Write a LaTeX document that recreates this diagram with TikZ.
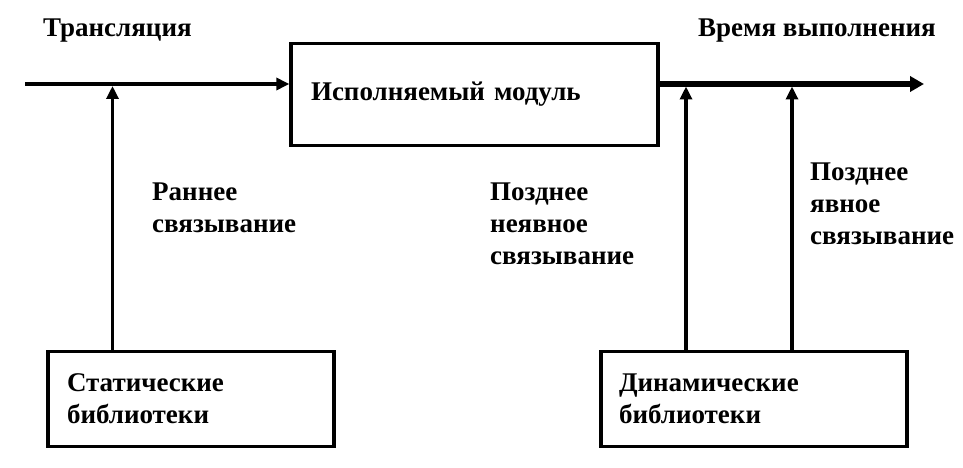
\documentclass[tikz,border=0pt]{standalone}
\usepackage{fontspec}
\setmainfont{Liberation Serif}
\usetikzlibrary{arrows.meta,calc}
\begin{document}
\begin{tikzpicture}[x=1pt,y=-1pt,
  txt/.style={font=\fontsize{27}{32}\selectfont\bfseries},
  lbl/.style={txt, anchor=north west, inner sep=0pt, align=left},
  box/.style={txt, draw, line width=3.3pt, inner xsep=0pt, inner ysep=0pt, align=left},
  arr/.style={line width=3.2pt, -{Triangle[length=13pt,width=12pt]}},
  bigarr/.style={line width=5.5pt, -{Triangle[length=14pt,width=15pt]}}]
\useasboundingbox (0,0) rectangle (963,468);
% boxes
\node[box, minimum width=367pt, minimum height=102pt, text width=327pt] (mod) at (474.5,94.5) {Исполняемый модуль};
\node[box, minimum width=286pt, minimum height=95pt, text width=248pt] (stat) at (191,399) {Статические\\библиотеки};
\node[box, minimum width=306pt, minimum height=95pt, text width=270pt] (dyn) at (754,399) {Динамические\\библиотеки};
% main line
\coordinate (start) at (25,84);
\coordinate (end) at (924,84);
\draw[arr] (start) -- (mod.west |- start);
\draw[bigarr] (mod.east |- end) -- (end);
% vertical arrows
\coordinate (l1) at (112.5,86);
\coordinate (r1) at (686,86.5);
\coordinate (r2) at (792,86.5);
\draw[arr] (stat.north -| l1) -- (l1);
\draw[arr] (dyn.north -| r1) -- (r1);
\draw[arr] (dyn.north -| r2) -- (r2);
% labels
\node[lbl] (t1) at (43,19) {Трансляция};
\node[lbl] (t2) at (698,19) {Время выполнения};
\node[lbl] (t3) at (152,183) {Раннее\\связывание};
\node[lbl] (t4) at (490,183) {Позднее\\неявное\\связывание};
\node[lbl] (t5) at (810,163) {Позднее\\явное\\связывание};
\end{tikzpicture}
\end{document}
